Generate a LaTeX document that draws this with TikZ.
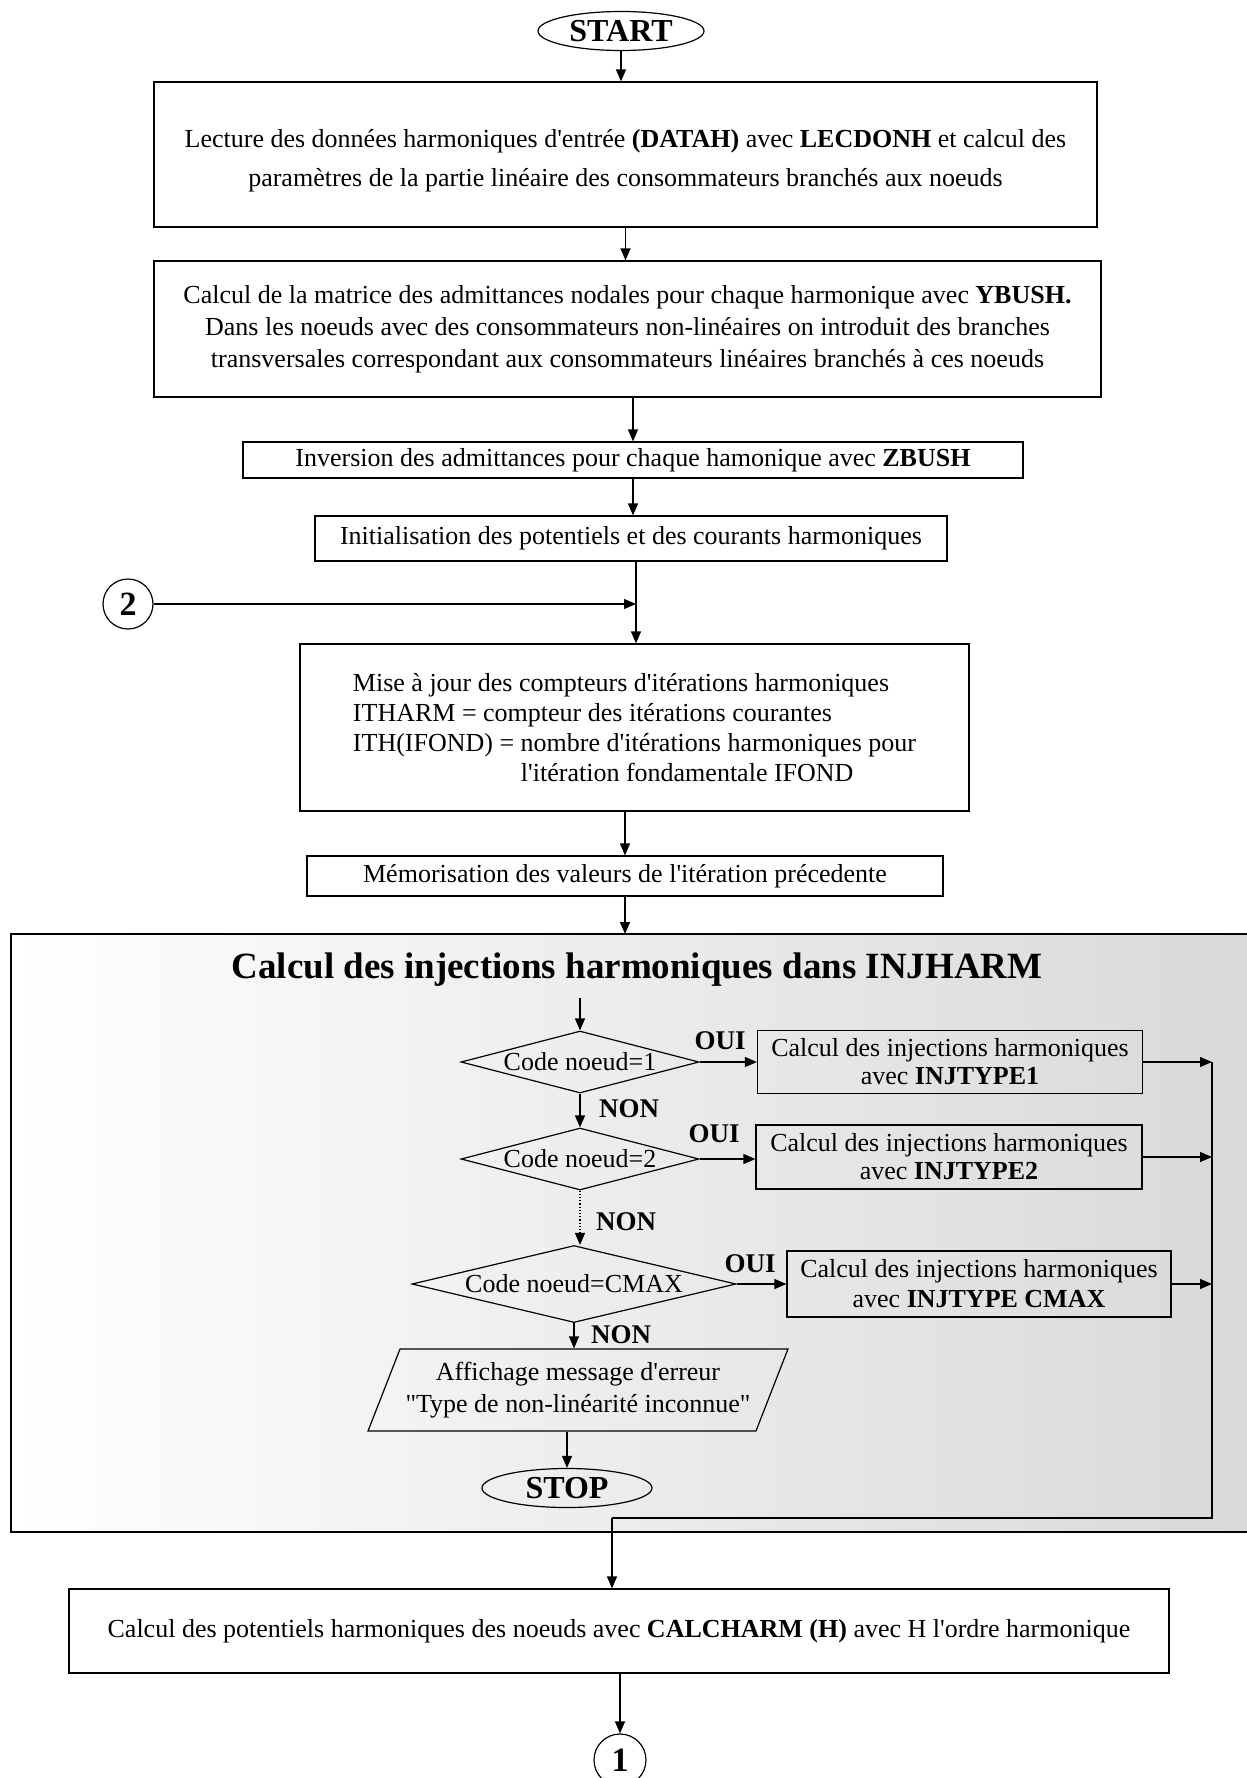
\documentclass[tikz,border=0pt]{standalone}
\usepackage{fontspec}
\setmainfont{Liberation Serif}[Ligatures=TeXOff]
\usetikzlibrary{shapes.geometric,arrows.meta}

\begin{document}
\begin{tikzpicture}[x=0.5pt, y=-0.5pt, >={Triangle[length=6pt,width=5pt]}, line width=0.6pt,
  every node/.style={font=\fontsize{13}{16}\selectfont},
  boite/.style={draw, rectangle, align=center, inner sep=0pt},
  terminal/.style={draw, ellipse, inner sep=0pt, font=\fontsize{16}{18}\selectfont\bfseries},
  decision/.style={draw, diamond, inner sep=0pt},
  donnee/.style={draw, trapezium, trapezium left angle=61, trapezium right angle=119,
    trapezium stretches=true, align=center, inner sep=0pt},
  rond/.style={draw, circle, inner sep=0pt, font=\fontsize{17}{18}\selectfont\bfseries},
  etiq/.style={font=\fontsize{13.5}{16}\selectfont\bfseries},
  titre/.style={font=\fontsize{18.5}{20}\selectfont\bfseries}]
\useasboundingbox (0,0) rectangle (1247,1778);

% zone INJHARM
\shade[left color=white, right color=black!15] (11,934) rectangle (1247,1532);
\draw (1247,934) -- (11,934) -- (11,1532) -- (1247,1532);

\node[terminal, minimum width=83pt, minimum height=19.5pt] (start) at (621,31) {START};
\node[boite, minimum width=471.5pt, minimum height=72.5pt] (lecture) at (625.5,154.5)
  {\rule{0pt}{15pt}Lecture des données harmoniques d'entrée \textbf{(DATAH)} avec \textbf{LECDONH} et calcul des\\[3.5pt]
   paramètres de la partie linéaire des consommateurs branchés aux noeuds};
\node[boite, minimum width=473.5pt, minimum height=68pt] (matrice) at (627.5,329)
  {Calcul de la matrice des admittances nodales pour chaque harmonique avec \textbf{YBUSH.}\\
   Dans les noeuds avec des consommateurs non-linéaires on introduit des branches\\
   transversales correspondant aux consommateurs linéaires branchés à ces noeuds};
\node[boite, minimum width=390pt, minimum height=18pt] (inversion) at (633,460)
  {Inversion des admittances pour chaque hamonique avec \textbf{ZBUSH}};
\node[boite, minimum width=316pt, minimum height=22.5pt] (init) at (631,538.5)
  {Initialisation des potentiels et des courants harmoniques};
\node[rond, minimum size=25pt] (conn2) at (128,604) {2};
\coordinate (jonction) at (636,604);
\node[boite, align=left, minimum width=334.5pt, minimum height=83.5pt] (miseajour) at (634.5,727.5)
  {Mise à jour des compteurs d'itérations harmoniques\\[-1pt]
   ITHARM = compteur des itérations courantes\\[-1pt]
   ITH(IFOND) = nombre d'itérations harmoniques pour\\[-1pt]
   \hspace*{84pt}l'itération fondamentale IFOND};
\node[boite, minimum width=318pt, minimum height=20pt] (memo) at (625,876)
  {Mémorisation des valeurs de l'itération précedente};
\coordinate (zone) at (626,934);

% injections
\node[titre] (titre) at (637,970) {Calcul des injections harmoniques dans INJHARM};
\coordinate (entree) at (580,998);
\node[decision, minimum width=119pt, minimum height=31pt, label={center:Code noeud=1}] (code1) at (580,1062) {};
\node[decision, minimum width=119pt, minimum height=31pt, label={center:Code noeud=2}] (code2) at (580,1159) {};
\node[decision, minimum width=162pt, minimum height=38.5pt, label={center:Code noeud=CMAX}] (code3) at (574,1284) {};
\node[boite, minimum width=192.5pt, minimum height=31.5pt] (inj1) at (950,1062)
  {Calcul des injections harmoniques\\[-2pt] avec \textbf{INJTYPE1}};
\node[boite, minimum width=193pt, minimum height=32pt] (inj2) at (949,1157)
  {Calcul des injections harmoniques\\[-2pt] avec \textbf{INJTYPE2}};
\node[boite, minimum width=192pt, minimum height=33pt] (inj3) at (979,1284)
  {Calcul des injections harmoniques\\[-1pt] avec \textbf{INJTYPE CMAX}};
\node[etiq] (oui1) at (720,1041) {OUI};
\node[etiq] (oui2) at (714,1134) {OUI};
\node[etiq] (oui3) at (750,1264) {OUI};
\node[etiq] (non1) at (629,1109) {NON};
\node[etiq] (non2) at (626,1222) {NON};
\node[etiq] (non3) at (621,1335) {NON};
\node[donnee, minimum width=210pt, minimum height=41pt] (erreur) at (578,1390)
  {Affichage message d'erreur\\ \char34 Type de non-linéarité inconnue\char34};
\node[terminal, minimum width=85pt, minimum height=19.5pt] (stop) at (567,1488) {STOP};
\coordinate (coin) at (1212,1518);
\coordinate (retour) at (612,1518);

\node[boite, minimum width=550pt, minimum height=42pt] (calc) at (619,1631)
  {Calcul des potentiels harmoniques des noeuds avec \textbf{CALCHARM (H)} avec H l'ordre harmonique};
\node[rond, minimum size=26pt] (conn1) at (620,1760) {1};

% liaisons
\draw[->] (start.south) -- (start.south |- lecture.north);
\draw[->] (lecture.south) -- (lecture.south |- matrice.north);
\draw[->] (inversion.north |- matrice.south) -- (inversion.north);
\draw[->] (inversion.south) -- (inversion.south |- init.north);
\draw[->] (jonction |- init.south) -- (jonction |- miseajour.north);
\draw[->] (conn2) -- (jonction);
\draw[->] (memo.north |- miseajour.south) -- (memo.north);
\draw[->] (memo.south) -- (memo.south |- zone);
\draw[->] (entree) -- (code1.north);
\draw[->] (code1) -- (code2);
\draw[->, densely dotted] (code2.south) -- (code2.south |- code3.north);
\draw[->] (code3.south) -- (code3.south |- erreur.north);
\draw[->] (stop.north |- erreur.south) -- (stop.north);
\draw[->] (code1.east) -- (code1.east -| inj1.west);
\draw[->] (code2.east) -- (code2.east -| inj2.west);
\draw[->] (code3.east) -- (code3.east -| inj3.west);
\draw[->] (inj1.east) -- (inj1.east -| coin);
\draw[->] (inj2.east) -- (inj2.east -| coin);
\draw[->] (inj3.east) -- (inj3.east -| coin);
\draw (inj1.east -| coin) -- (coin) -- (retour);
\draw[->] (retour) -- (retour |- calc.north);
\draw[->] (conn1.north |- calc.south) -- (conn1.north);
\end{tikzpicture}
\end{document}
